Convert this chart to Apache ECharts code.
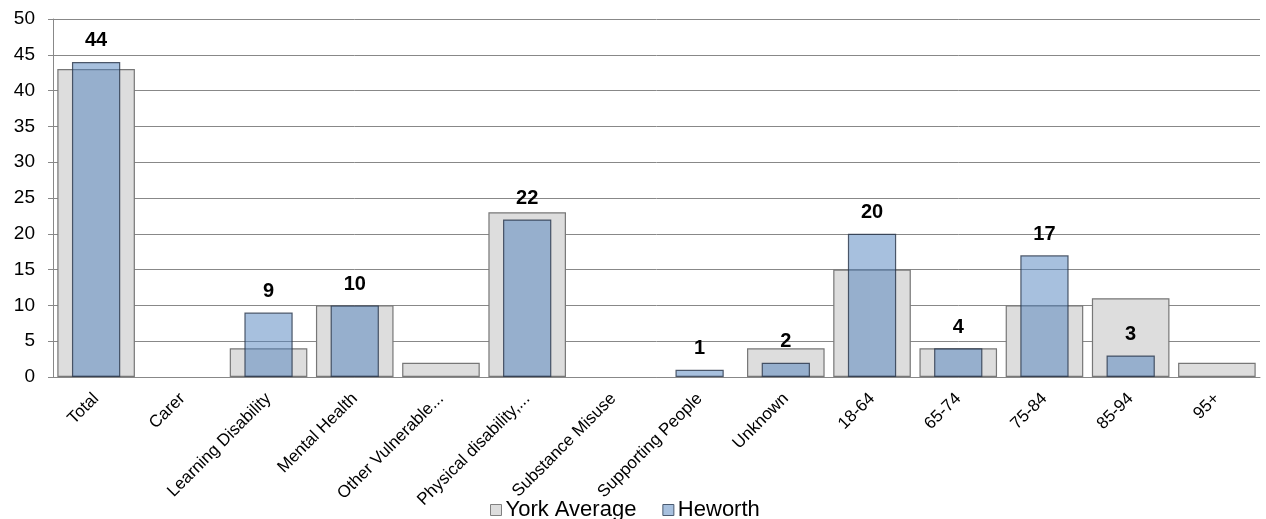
<!DOCTYPE html>
<html>
<head>
<meta charset="utf-8">
<script src="https://cdn.jsdelivr.net/npm/echarts@6/dist/echarts.min.js"></script>
<style>
  html, body { margin: 0; padding: 0; background: #fff; }
  #chart { width: 1266px; height: 519px; }
</style>
</head>
<body>
<div id="chart"></div>
<script>
const categories = ['Total', 'Carer', 'Learning Disability', 'Mental Health', 'Other Vulnerable...',
  'Physical disability,...', 'Substance Misuse', 'Supporting People', 'Unknown',
  '18-64', '65-74', '75-84', '85-94', '95+']
const yorkAverage = [43, 0, 4, 10, 2, 23, 0, 0, 4, 15, 4, 10, 11, 2]
const heworth = [44, 0, 9, 10, 0, 22, 0, 1, 2, 20, 4, 17, 3, 0]
const yTicks = { min: 0, max: 50, interval: 5 }

const font = 'Liberation Sans, Arial, sans-serif'
const chart = echarts.init(document.getElementById('chart'))

// zero bars are not drawn in the original
const noZero = arr => arr.map(v => (v === 0 ? '-' : v))

chart.setOption({
  animation: false,
  textStyle: { fontFamily: font },
  grid: { left: 53, right: 6, top: 19, bottom: 142 },
  legend: {
    top: 494,
    left: 485,
    icon: 'rect',
    itemWidth: 11,
    itemHeight: 11,
    itemGap: 26,
    textStyle: { fontSize: 22, color: '#000', fontFamily: font, padding: [0, 0, 0, -1] },
    data: [
      { name: 'York Average', itemStyle: { color: '#dddddd', borderColor: '#808080', borderWidth: 1 } },
      { name: 'Heworth', itemStyle: { color: '#a7c0de', borderColor: '#4a5a70', borderWidth: 1 } }
    ]
  },
  xAxis: [{
    type: 'category',
    data: categories,
    axisLine: { lineStyle: { color: '#888' } },
    axisTick: { length: 5, lineStyle: { color: '#888' } },
    axisLabel: { rotate: 45, fontSize: 17, color: '#000', interval: 0, margin: 19, fontFamily: font }
  }, {
    type: 'category',
    data: categories,
    show: false
  }],
  yAxis: {
    type: 'value',
    min: yTicks.min,
    max: yTicks.max,
    interval: yTicks.interval,
    axisLine: { show: true, lineStyle: { color: '#888' } },
    axisTick: { show: true, length: 5, lineStyle: { color: '#888' } },
    axisLabel: { fontSize: 19, color: '#000', margin: 18, fontFamily: font },
    splitLine: { lineStyle: { color: '#888', width: 1 } }
  },
  series: [{
    name: 'York Average',
    type: 'bar',
    xAxisIndex: 0,
    barWidth: '90%',
    data: noZero(yorkAverage),
    itemStyle: { color: '#dddddd', borderColor: '#777', borderWidth: 1.2 }
  }, {
    name: 'Heworth',
    type: 'bar',
    xAxisIndex: 1,
    barWidth: '56%',
    data: noZero(heworth),
    itemStyle: { color: 'rgba(79,129,189,0.5)', borderColor: 'rgba(40,52,72,0.8)', borderWidth: 1.2 },
    label: {
      show: true,
      position: 'top',
      distance: 11,
      fontSize: 20,
      fontWeight: 'bold',
      color: '#000',
      fontFamily: font
    }
  }]
})
</script>
</body>
</html>
